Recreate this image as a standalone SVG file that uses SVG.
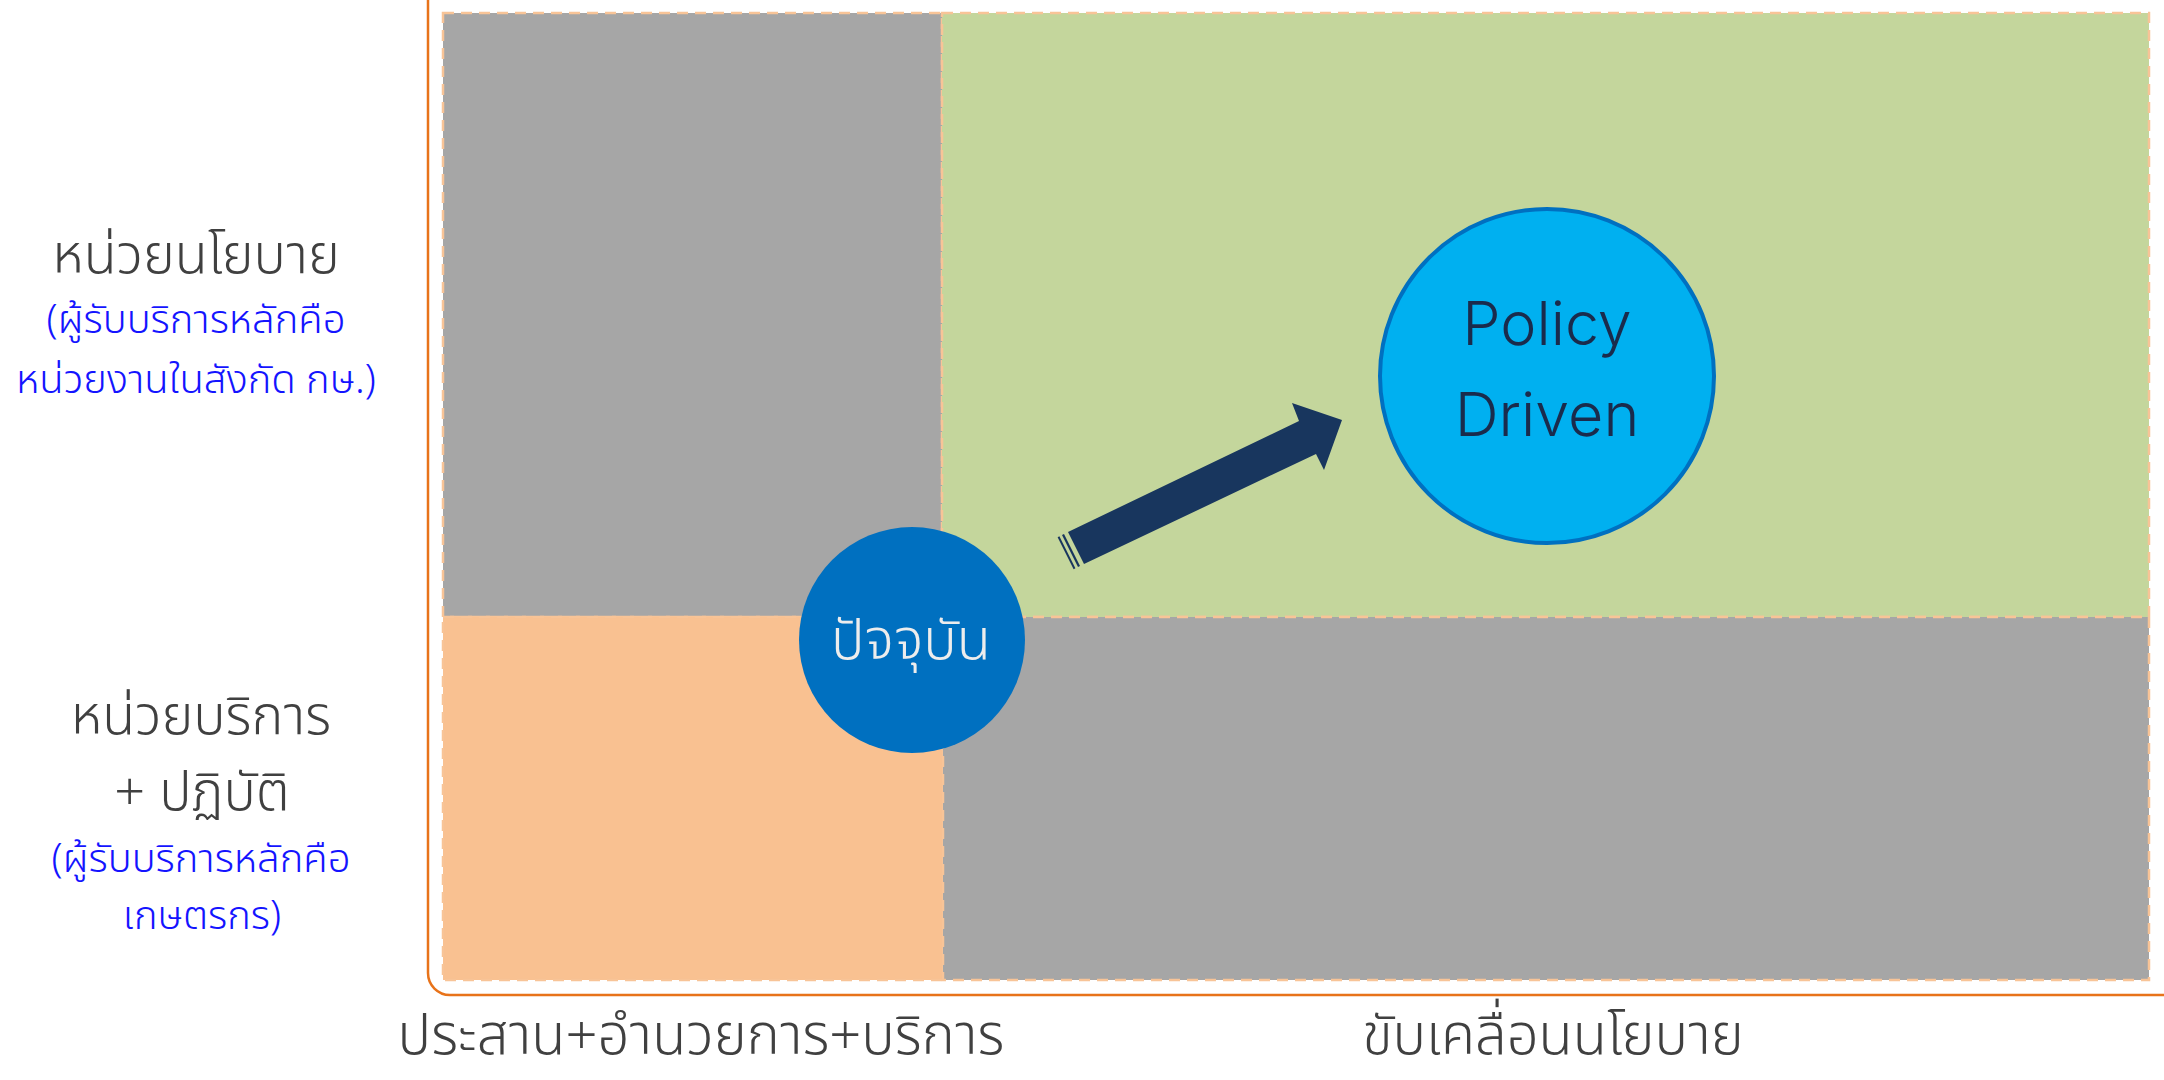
<svg xmlns="http://www.w3.org/2000/svg" width="2164" height="1080" viewBox="0 0 2164 1080">
<style>
.q{stroke:#F8C497;stroke-width:2.5;stroke-dasharray:11 7}
.th{font-family:"Noto Sans Thai","Noto Sans Thai Looped","Loma","Garuda","Norasi","Noto Sans",sans-serif;font-weight:300;text-anchor:middle}
.gray{fill:#404040}
.blue{fill:#1414FF}
.en{font-family:"Inter","Liberation Sans",sans-serif;font-weight:300;text-anchor:middle;fill:#1a2b4c}
</style>
<rect width="2164" height="1080" fill="#FFFFFF"/>
<g id="quadrant-top-left"><rect x="443" y="13" width="499" height="604" fill="#A6A6A6" class="q"/></g>
<g id="quadrant-top-right"><rect x="942" y="13" width="1207" height="604" fill="#C4D69C" class="q"/></g>
<g id="quadrant-bottom-left"><rect x="443" y="617" width="500" height="363" fill="#F9C191" class="q"/></g>
<g id="quadrant-bottom-right"><rect x="943" y="617" width="1206" height="363" fill="#A6A6A6" class="q"/></g>
<g id="axes"><path d="M428,0 V973 A22,22 0 0 0 450,995 H2164" fill="none" stroke="#E8731A" stroke-width="2.5"/></g>
<g id="connectors">
<polygon points="1068,532 1299,421 1292,403 1342,420 1324,470 1316,454 1084,564" fill="#18365E"/>
<line x1="1063" y1="534.5" x2="1079" y2="566.5" stroke="#18365E" stroke-width="2.2"/>
<line x1="1058.5" y1="536.7" x2="1074.5" y2="568.7" stroke="#18365E" stroke-width="2"/>
</g>
<g id="node-current">
<circle cx="912" cy="640" r="113" fill="#0070C0"/>
<text x="911" y="659" class="th" font-size="56" fill="#EDEDED">ปัจจุบัน</text>
</g>
<g id="node-policy-driven">
<circle cx="1547" cy="376" r="167" fill="#00B0F0" stroke="#0070C0" stroke-width="4"/>
<text x="1547" y="345" class="en" font-size="61">Policy</text>
<text x="1547" y="436" class="en" font-size="61">Driven</text>
</g>
<g id="label-policy-unit">
<text x="196" y="273" class="th gray" font-size="54">หน่วยนโยบาย</text>
<text x="196" y="333" class="th blue" font-size="40">(ผู้รับบริการหลักคือ</text>
<text x="196" y="393" class="th blue" font-size="40">หน่วยงานในสังกัด กษ.)</text>
</g>
<g id="label-service-unit">
<text x="201" y="734" class="th gray" font-size="54">หน่วยบริการ</text>
<text x="202" y="810" class="th gray" font-size="54">+ ปฏิบัติ</text>
<text x="201" y="872" class="th blue" font-size="40">(ผู้รับบริการหลักคือ</text>
<text x="202" y="929" class="th blue" font-size="40">เกษตรกร)</text>
</g>
<g id="label-x-axis">
<text x="701" y="1054" class="th gray" font-size="56">ประสาน+อำนวยการ+บริการ</text>
<text x="1553" y="1054" class="th gray" font-size="56">ขับเคลื่อนนโยบาย</text>
</g>
</svg>
